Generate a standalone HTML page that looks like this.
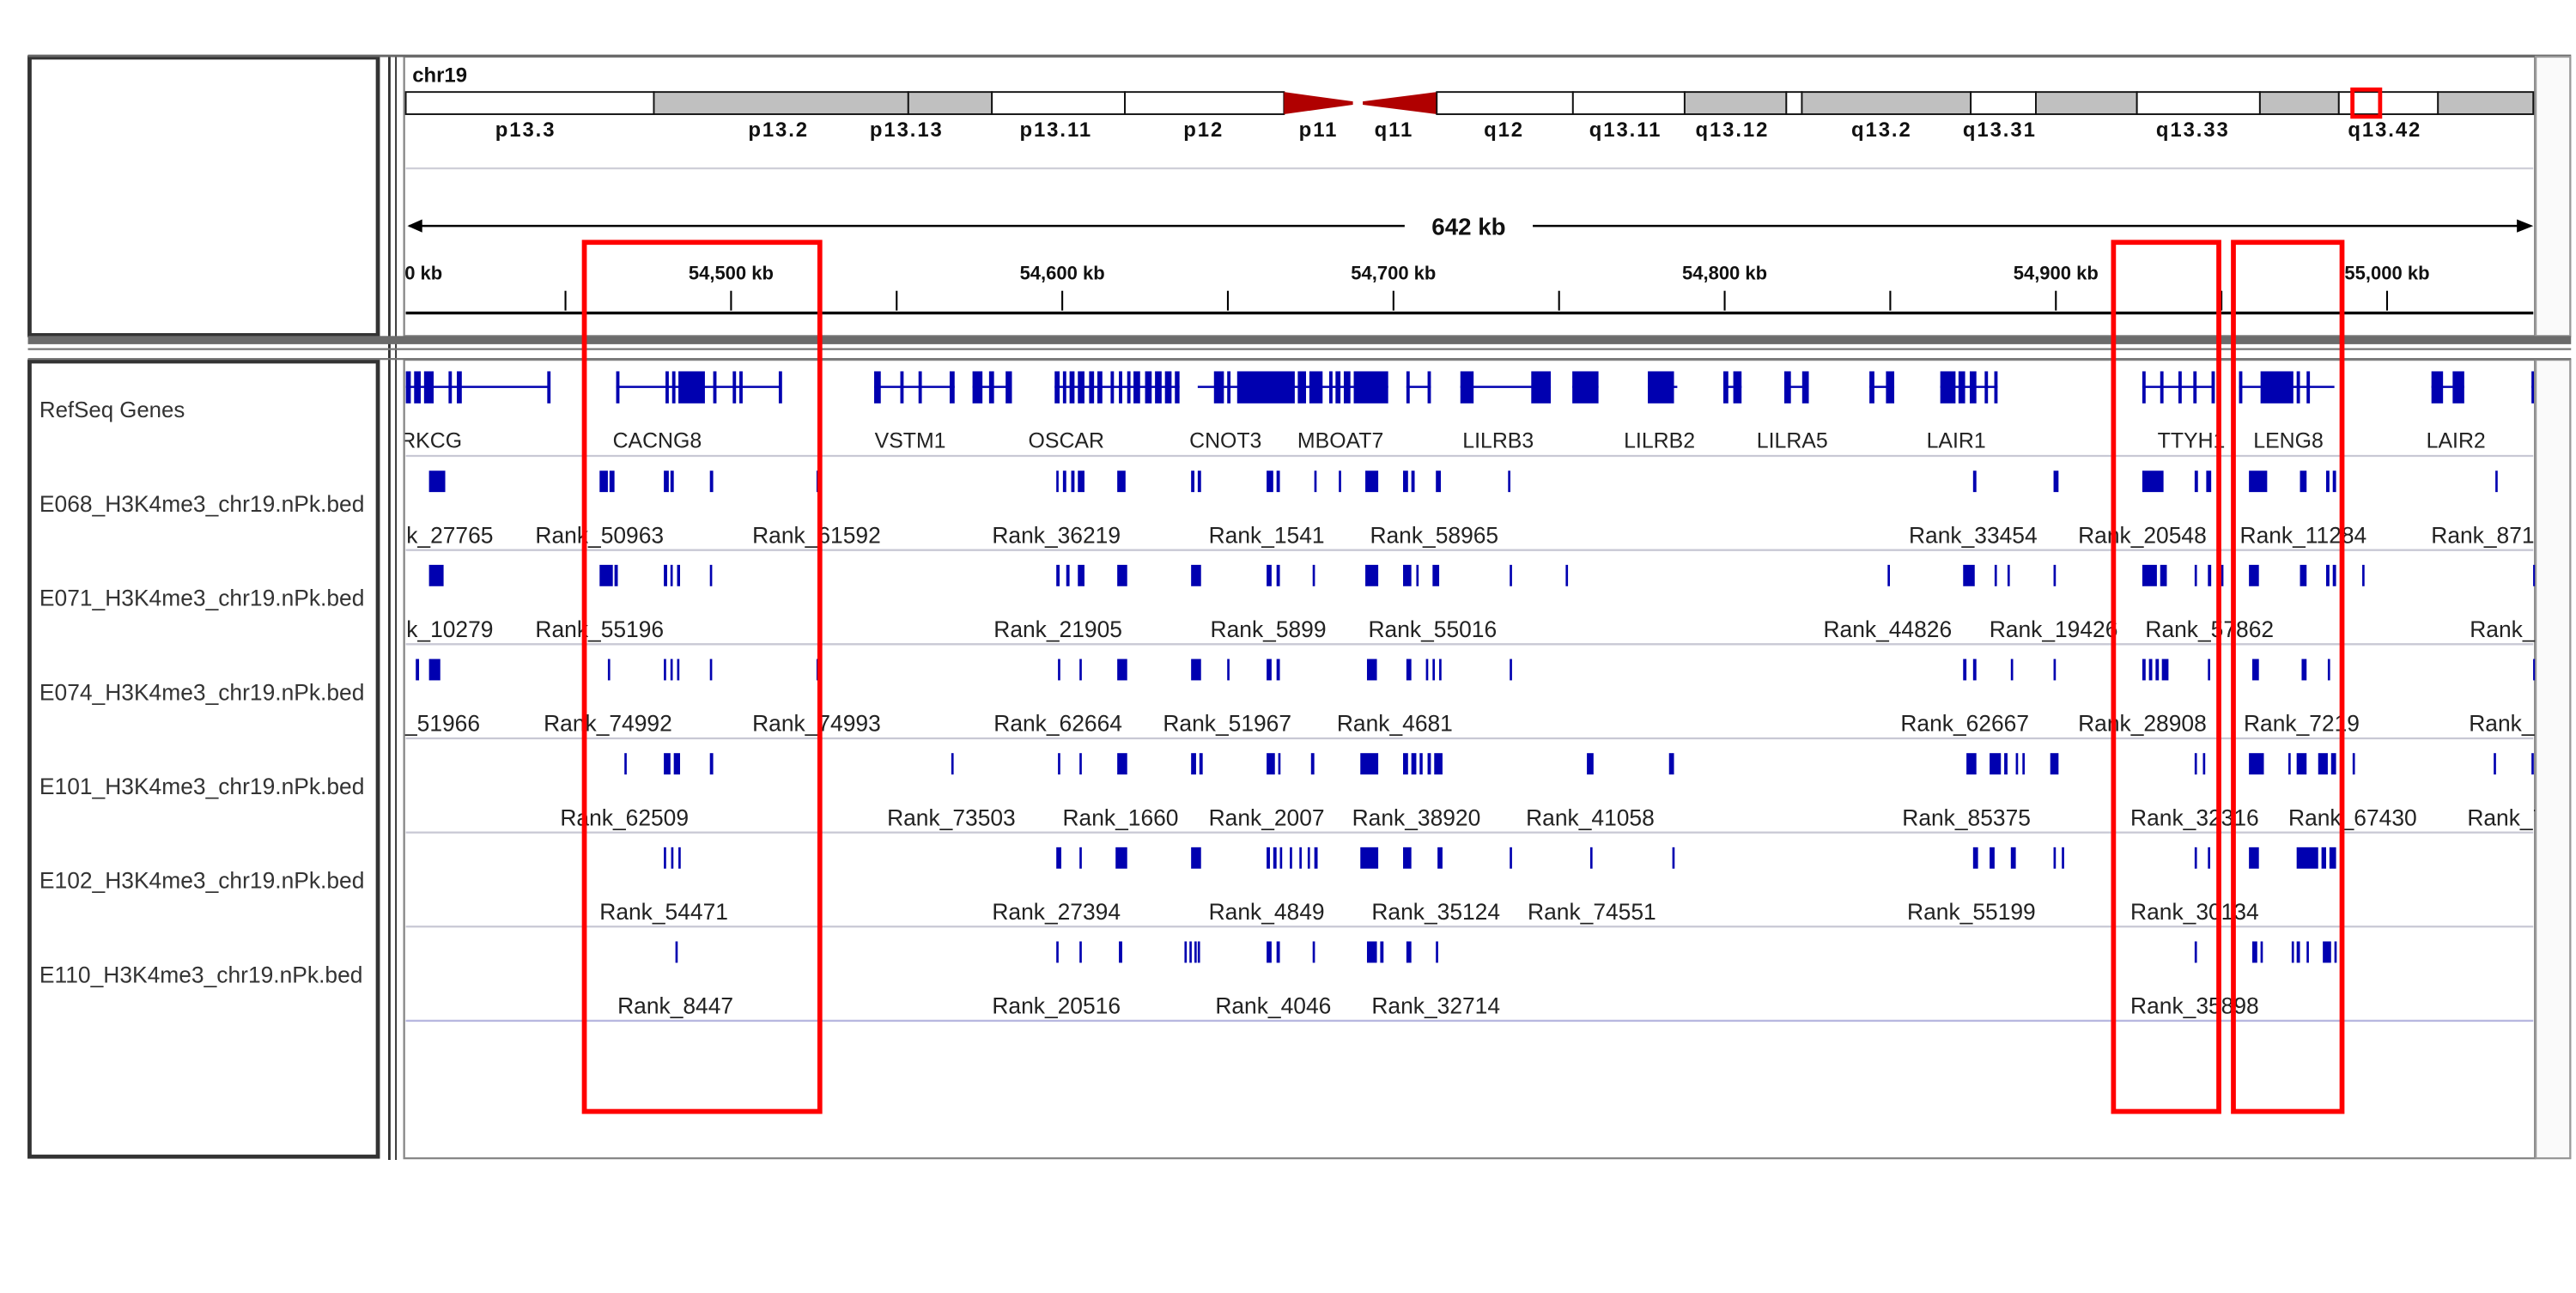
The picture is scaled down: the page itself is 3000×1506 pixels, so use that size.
<!DOCTYPE html>
<html><head><meta charset="utf-8"><style>
html,body{margin:0;padding:0;background:#fff;}
svg{display:block;}
text{font-family:"Liberation Sans",sans-serif;}
</style></head><body>
<svg id="chart" width="3000" height="1506" viewBox="0 0 1568 787" preserveAspectRatio="none" xmlns="http://www.w3.org/2000/svg">
<defs><clipPath id="dataClip"><rect x="246.5" y="30" width="1296.5" height="680"/></clipPath></defs>
<rect x="0" y="0" width="1568" height="787" fill="#fff"/>
<rect x="18" y="35" width="212" height="169" fill="#fff" stroke="#333" stroke-width="2.5"/>
<rect x="18" y="220" width="212" height="484" fill="#fff" stroke="#333" stroke-width="2.5"/>
<line x1="237" y1="34" x2="237" y2="706" stroke="#333" stroke-width="1.5"/>
<line x1="241" y1="34" x2="241" y2="706" stroke="#333" stroke-width="1"/>
<rect x="246" y="34.5" width="1297" height="170" fill="#fff" stroke="#888" stroke-width="1.2"/>
<rect x="246" y="219" width="1297" height="486" fill="#fff" stroke="#888" stroke-width="1.2"/>
<line x1="17" y1="34" x2="1565" y2="34" stroke="#666" stroke-width="1.5"/>
<rect x="1543.5" y="34.5" width="21" height="170" fill="#fafafa" stroke="#999" stroke-width="1.2"/>
<rect x="1543.5" y="219" width="21" height="486" fill="#fafafa" stroke="#999" stroke-width="1.2"/>
<rect x="17" y="204.5" width="1548" height="5" fill="#6b6b6b"/>
<line x1="17" y1="212.5" x2="1565" y2="212.5" stroke="#777" stroke-width="1.2"/>
<line x1="17" y1="218.5" x2="1565" y2="218.5" stroke="#777" stroke-width="1.2"/>
<text x="251" y="50" font-size="12.5" font-weight="bold" fill="#111">chr19</text>
<g id="ideo"></g>
<line x1="247" y1="102.5" x2="1542" y2="102.5" stroke="#cfcfd8" stroke-width="1.2"/>
<g id="ruler" clip-path="url(#dataClip)"></g>
<g id="tracks" clip-path="url(#dataClip)"></g>
<g id="names"></g>
<g id="boxes"></g>
</svg>
<script>
// ---------- data ----------
const rulerTicksKb = [54400,54450,54500,54550,54600,54650,54700,54750,54800,54850,54900,54950,55000];
const rulerLabelsKb = [54400,54500,54600,54700,54800,54900,55000];
const rulerLabels = ["54,400 kb","54,500 kb","54,600 kb","54,700 kb","54,800 kb","54,900 kb","55,000 kb"];
const spanLabel = "642 kb";

const bandNames = ["p13.3","p13.2","p13.13","p13.11","p12","p11","q11","q12","q13.11","q13.12","","q13.2","q13.31","","q13.33","","q13.42",""];
const bandStarts = [0,0.1166,0.2362,0.2755,0.3380,0.4128,0.4475,0.4846,0.5486,0.6011,0.6489,0.6562,0.7356,0.7662,0.8137,0.8715,0.9086,0.9552];
const bandEnds =   [0.1166,0.2362,0.2755,0.3380,0.4128,0.4475,0.4846,0.5486,0.6011,0.6489,0.6562,0.7356,0.7662,0.8137,0.8715,0.9086,0.9552,1];
const bandStains = ["w","g","g","w","w","cen","cen","w","w","g","w","g","w","g","w","g","w","g"];
const bandLabelPos = [0.0563,0.1752,0.2354,0.3056,0.3750,0.4290,0.4645,0.5162,0.5733,0.6235,null,0.6937,0.7492,null,0.8400,null,0.9302,null];
const viewBoxFrac = [0.9150,0.9280];

const geneSpans = [[54401.8,54445.0],[54465.3,54514.9],[54543.2,54567.5],[54572.9,54584.8],[54597.7,54635.4],[54640.9,54698.4],[54703.9,54711.3],[54720.2,54747.5],[54754.0,54761.9],[54776.8,54785.7],[54799.6,54805.1],[54818.0,54825.4],[54843.7,54851.2],[54865.1,54882.4],[54926.1,54947.9],[54955.3,54984.1],[55013.4,55023.3],[55043.6,55044.1]];
const geneExons = [[54401.8,54403.3],[54404.3,54406.3],[54407.3,54410.2],[54414.7,54415.7],[54417.2,54418.7],[54444.5,54445.5],
[54465.3,54466.3],[54480.2,54481.2],[54482.2,54483.2],[54484.1,54492.1],[54494.6,54495.6],[54500.5,54501.5],[54502.5,54503.5],[54514.4,54515.4],
[54543.2,54545.2],[54551.1,54552.1],[54556.6,54557.6],[54566.0,54567.5],[54572.9,54575.9],[54577.9,54579.4],[54582.9,54584.8],
[54597.7,54599.2],[54600.2,54601.2],[54602.2,54603.7],[54604.7,54606.7],[54608.1,54609.6],[54610.6,54612.1],[54614.6,54615.6],[54617.1,54618.1],[54619.6,54620.6],[54621.5,54623.5],[54625.0,54627.0],[54628.0,54630.0],[54631.0,54633.0],[54634.0,54635.4],
[54645.8,54648.8],[54649.8,54650.8],[54652.8,54670.2],[54671.1,54673.6],[54674.6,54678.6],[54680.6,54681.6],[54682.5,54684.0],[54685.0,54687.0],[54688.0,54698.4],
[54703.9,54704.9],[54710.3,54711.3],[54720.2,54724.2],[54741.6,54747.5],[54754.0,54761.9],[54776.8,54784.7],[54799.6,54801.1],[54802.6,54805.1],[54818.0,54820.0],[54823.4,54825.4],[54843.7,54845.2],[54848.7,54851.2],
[54865.1,54869.7],[54870.6,54872.6],[54874.0,54876.0],[54878.5,54879.5],[54881.4,54882.4],
[54926.1,54927.1],[54931.5,54932.5],[54937.0,54938.0],[54941.5,54942.5],[54947.0,54948.0],
[54955.3,54956.3],[54961.8,54971.7],[54972.7,54973.7],[54975.7,54976.7],[55013.4,55016.9],[55019.8,55023.3],[55043.6,55044.1]];
const geneNames = ["PRKCG","CACNG8","VSTM1","OSCAR","CNOT3","MBOAT7","LILRB3","LILRB2","LILRA5","LAIR1","TTYH1","LENG8","LAIR2"];
const geneLabelKb = [54407.3,54477.7,54554.1,54601.2,54649.3,54684.0,54731.6,54780.3,54820.4,54869.9,54940.9,54970.2,55020.8];

const trackNames = ["E068_H3K4me3_chr19.nPk.bed","E071_H3K4me3_chr19.nPk.bed","E074_H3K4me3_chr19.nPk.bed","E101_H3K4me3_chr19.nPk.bed","E102_H3K4me3_chr19.nPk.bed","E110_H3K4me3_chr19.nPk.bed"];
const peaksE068 = [[54408.8,54413.7],[54460.3,54462.8],[54463.3,54464.8],[54479.7,54481.2],[54481.7,54482.7],[54493.6,54494.6],[54525.8,54526.8],[54598.2,54598.7],[54600.2,54601.2],[54602.7,54603.7],[54604.7,54606.7],[54616.6,54619.1],[54638.9,54639.9],[54640.9,54641.9],[54661.7,54663.7],[54664.7,54665.7],[54676.1,54676.6],[54683.5,54684.0],[54691.5,54695.4],[54702.9,54704.4],[54705.4,54706.4],[54712.8,54714.3],[54734.6,54735.1],[54875.0,54876.0],[54899.3,54900.8],[54926.1,54932.5],[54941.9,54942.9],[54945.4,54946.9],[54958.3,54963.8],[54973.7,54975.7],[54981.6,54982.6],[54983.6,54984.6],[55032.7,55033.2]];
const peaksE071 = [[54408.8,54413.2],[54460.3,54464.3],[54464.8,54465.8],[54479.7,54480.7],[54481.7,54482.2],[54483.7,54484.6],[54493.6,54494.1],[54598.2,54599.2],[54601.2,54602.2],[54604.7,54606.7],[54616.6,54619.6],[54638.9,54641.9],[54661.7,54663.2],[54664.7,54665.7],[54675.6,54676.1],[54691.5,54695.4],[54702.9,54705.4],[54706.9,54707.4],[54711.8,54713.8],[54735.1,54735.6],[54752.0,54752.5],[54849.2,54849.7],[54872.0,54875.5],[54881.5,54882.0],[54885.4,54885.9],[54899.3,54899.8],[54926.1,54930.5],[54931.5,54933.5],[54941.9,54942.4],[54945.9,54946.9],[54949.9,54950.4],[54958.3,54961.3],[54973.7,54975.7],[54981.6,54982.6],[54983.6,54984.6],[54992.5,54993.0],[55044.1,55044.6]];
const peaksE074 = [[54404.8,54405.8],[54408.8,54412.2],[54462.8,54463.3],[54479.7,54480.2],[54481.7,54482.2],[54483.7,54484.2],[54493.6,54494.1],[54525.8,54526.8],[54598.7,54599.2],[54605.2,54605.7],[54616.6,54619.6],[54638.9,54641.9],[54649.8,54650.3],[54661.7,54663.2],[54664.7,54665.7],[54692.0,54695.0],[54703.9,54705.4],[54709.8,54710.3],[54711.8,54712.3],[54713.8,54714.3],[54735.1,54735.6],[54872.0,54873.0],[54875.0,54876.0],[54886.4,54886.9],[54899.3,54899.8],[54926.1,54927.1],[54928.1,54929.1],[54930.1,54931.1],[54932.0,54934.0],[54945.9,54946.4],[54959.3,54961.3],[54974.2,54975.7],[54982.1,54982.6],[55044.1,55044.6]];
const peaksE101 = [[54467.8,54468.3],[54479.7,54481.7],[54482.7,54484.6],[54493.6,54494.6],[54566.5,54567.0],[54598.7,54599.2],[54605.2,54605.7],[54616.6,54619.6],[54638.9,54640.4],[54641.4,54642.4],[54661.7,54664.2],[54665.2,54665.7],[54675.1,54676.1],[54690.0,54695.4],[54702.9,54704.4],[54705.4,54706.9],[54707.9,54708.8],[54710.3,54711.3],[54712.3,54714.8],[54758.4,54760.4],[54783.2,54784.7],[54873.0,54876.0],[54880.0,54883.4],[54884.4,54885.4],[54887.9,54888.4],[54889.9,54890.4],[54898.3,54900.8],[54941.9,54942.4],[54944.4,54944.9],[54958.3,54962.8],[54970.2,54970.7],[54972.7,54975.7],[54979.2,54982.1],[54983.1,54984.6],[54989.6,54990.1],[55032.2,55032.7],[55043.6,55044.1]];
const peaksE102 = [[54479.7,54480.2],[54481.9,54482.4],[54484.1,54484.6],[54598.2,54599.7],[54605.2,54605.7],[54616.1,54619.6],[54638.9,54641.9],[54661.7,54662.7],[54663.7,54664.7],[54665.7,54666.2],[54668.7,54669.2],[54671.6,54672.1],[54674.1,54674.6],[54676.1,54677.1],[54690.0,54695.4],[54702.9,54705.4],[54713.3,54714.8],[54735.1,54735.6],[54759.4,54759.9],[54784.2,54784.7],[54875.0,54876.5],[54880.0,54881.5],[54886.4,54887.9],[54899.3,54899.8],[54901.8,54902.3],[54941.9,54942.4],[54945.9,54946.4],[54958.3,54961.3],[54972.7,54979.2],[54980.2,54981.6],[54982.6,54984.6]];
const peaksE110 = [[54483.2,54483.7],[54598.2,54598.7],[54605.2,54605.7],[54617.1,54618.1],[54636.9,54637.4],[54638.4,54638.9],[54639.9,54640.4],[54640.9,54641.4],[54661.7,54663.2],[54664.7,54665.7],[54675.6,54676.1],[54692.0,54695.0],[54696.0,54697.0],[54703.9,54705.4],[54712.8,54713.3],[54941.9,54942.4],[54959.3,54960.8],[54961.8,54962.3],[54971.2,54971.7],[54972.7,54973.7],[54975.7,54976.2],[54980.6,54983.1],[54984.1,54984.6]];
const labelsE068 = ["Rank_27765","Rank_50963","Rank_61592","Rank_36219","Rank_1541","Rank_58965","Rank_33454","Rank_20548","Rank_11284","Rank_87101"];
const labelKbE068 = [54408.8,54460.3,54525.8,54598.2,54661.7,54712.3,54875.0,54926.1,54974.7,55032.7];
const labelsE071 = ["Rank_10279","Rank_55196","Rank_21905","Rank_5899","Rank_55016","Rank_44826","Rank_19426","Rank_57862","Rank_60112"];
const labelKbE071 = [54408.8,54460.3,54598.7,54662.2,54711.8,54849.2,54899.3,54946.4,55044.1];
const labelsE074 = ["Rank_51966","Rank_74992","Rank_74993","Rank_62664","Rank_51967","Rank_4681","Rank_62667","Rank_28908","Rank_7219","Rank_15302"];
const labelKbE074 = [54404.8,54462.8,54525.8,54598.7,54649.8,54700.4,54872.5,54926.1,54974.2,55044.1];
const labelsE101 = ["Rank_62509","Rank_73503","Rank_1660","Rank_2007","Rank_38920","Rank_41058","Rank_85375","Rank_32316","Rank_67430","Rank_70221"];
const labelKbE101 = [54467.8,54566.5,54617.6,54661.7,54706.9,54759.4,54873.0,54941.9,54989.6,55043.6];
const labelsE102 = ["Rank_54471","Rank_27394","Rank_4849","Rank_35124","Rank_74551","Rank_55199","Rank_30134"];
const labelKbE102 = [54479.7,54598.2,54661.7,54712.8,54759.9,54874.5,54941.9];
const labelsE110 = ["Rank_8447","Rank_20516","Rank_4046","Rank_32714","Rank_35898"];
const labelKbE110 = [54483.2,54598.2,54663.7,54712.8,54941.9];
const highlightStartKb = [54455.7,54917.4,54953.6];
const highlightEndKb = [54526.8,54949.2,54986.4];

// ---------- rendering ----------
const NS = "http://www.w3.org/2000/svg";
const X0 = 247, X1 = 1542;
function xs(kb){ return 445 + (kb - 54500) * (1453 - 445) / 500; }
function mk(tag, attrs, parent){
  const e = document.createElementNS(NS, tag);
  for (const k in attrs) e.setAttribute(k, attrs[k]);
  parent.appendChild(e);
  return e;
}
const ideo = document.getElementById('ideo');
const IY = 56, IH = 13.5, IW = X1 - X0;
for (let i = 0; i < bandStarts.length; i++) {
  const a = X0 + bandStarts[i]*IW, b = X0 + bandEnds[i]*IW;
  let el;
  if (bandStains[i] === 'cen') {
    const left = bandNames[i] === 'p11';
    const pts = left ? `${a},${IY} ${b-3},${IY+IH/2-1} ${b-3},${IY+IH/2+1} ${a},${IY+IH}` : `${a+3},${IY+IH/2-1} ${b},${IY} ${b},${IY+IH} ${a+3},${IY+IH/2+1}`;
    el = mk('polygon', {points: pts, fill:'#b00000'}, ideo);
  } else {
    el = mk('rect', {x:a, y:IY, width:b-a, height:IH, fill: bandStains[i]==='g' ? '#c0c0c0' : '#fff', stroke:'#111', 'stroke-width':1}, ideo);
  }
  
  
  if (bandLabelPos[i] !== null) {
    const t = mk('text', {x: X0 + bandLabelPos[i]*IW, y: 83, 'font-size':12.5, 'font-weight':'bold', 'text-anchor':'middle', 'letter-spacing':'1', fill:'#111'}, ideo);
    t.textContent = bandNames[i];
    
    
  }
}
const vb = mk('rect', {x: X0 + viewBoxFrac[0]*IW, y: 54.5, width:(viewBoxFrac[1]-viewBoxFrac[0])*IW, height:16.5, fill:'none', stroke:'#f00', 'stroke-width':2.5}, ideo);



const ruler = document.getElementById('ruler');
const sl1 = mk('line', {x1:X0+2, y1:137.5, x2:855, y2:137.5, stroke:'#000', 'stroke-width':1.3}, ruler);


const sl2 = mk('line', {x1:933, y1:137.5, x2:X1-2, y2:137.5, stroke:'#000', 'stroke-width':1.3}, ruler);


const ah1 = mk('polygon', {points:`${X0+1},137.5 ${X0+10},133.5 ${X0+10},141.5`, fill:'#000'}, ruler);


const ah2 = mk('polygon', {points:`${X1},137.5 ${X1-10},133.5 ${X1-10},141.5`, fill:'#000'}, ruler);


const st = mk('text', {x:894, y:143, 'font-size':14.5, 'font-weight':'bold', 'text-anchor':'middle', fill:'#111'}, ruler);
st.textContent = spanLabel;


rulerTicksKb.forEach(kb => {
  const x = xs(kb);
  const l = mk('line', {x1:x, y1:177, x2:x, y2:189, stroke:'#000', 'stroke-width':1.1}, ruler);
  
  
});
rulerLabelsKb.forEach((kb, i) => {
  const t = mk('text', {x:xs(kb), y:170, 'font-size':11.5, 'font-weight':'bold', 'text-anchor':'middle', fill:'#111'}, ruler);
  t.textContent = rulerLabels[i];
  
  
});
const bl = mk('line', {x1:X0, y1:190.5, x2:X1, y2:190.5, stroke:'#000', 'stroke-width':1.8}, ruler);



const tracks = document.getElementById('tracks');
const geneG = mk('g', {}, tracks);


geneSpans.forEach(s => {
  const l = mk('line', {x1:xs(s[0]), y1:235.5, x2:xs(s[1]), y2:235.5, stroke:'#0000b0', 'stroke-width':1.3}, geneG);
  
  
});
geneExons.forEach(s => {
  const x = xs(s[0]);
  const r = mk('rect', {x:x, y:226, width:Math.max(1.5, xs(s[1])-x), height:19.5, fill:'#0000b0'}, geneG);
  
  
});
geneNames.forEach((n, i) => {
  const t = mk('text', {x:xs(geneLabelKb[i]), y:272.5, 'font-size':13, 'text-anchor':'middle', fill:'#222'}, geneG);
  t.textContent = n;
  
  
});
const sep0 = mk('line', {x1:X0, y1:277.5, x2:X1, y2:277.5, stroke:'#c8c8d4', 'stroke-width':1.2}, tracks);



const peakSets = [peaksE068, peaksE071, peaksE074, peaksE101, peaksE102, peaksE110];
const labelSets = [labelsE068, labelsE071, labelsE074, labelsE101, labelsE102, labelsE110];
const labelKbSets = [labelKbE068, labelKbE071, labelKbE074, labelKbE101, labelKbE102, labelKbE110];
peakSets.forEach((peaks, ti) => {
  const top = 277.5 + ti * 57.3;
  const g = mk('g', {}, tracks);
  
  
  peaks.forEach(p => {
    const x = xs(p[0]);
    const r = mk('rect', {x:x, y:top+9, width:Math.max(1.4, xs(p[1])-x), height:13, fill:'#0000b0'}, g);
    
    
  });
  labelSets[ti].forEach((lab, li) => {
    const t = mk('text', {x:xs(labelKbSets[ti][li]), y:top+53, 'font-size':13.8, 'text-anchor':'middle', fill:'#222'}, g);
    t.textContent = lab;
    
    
  });
  const s = mk('line', {x1:X0, y1:top+57.3, x2:X1, y2:top+57.3, stroke: ti===5 ? '#b8b8e0' : '#c8c8d4', 'stroke-width':1.2}, tracks);
  
  
});

const names = document.getElementById('names');
const rn = mk('text', {x:24, y:254, 'font-size':13.5, fill:'#333'}, names);
rn.textContent = 'RefSeq Genes';


trackNames.forEach((n, i) => {
  const t = mk('text', {x:24, y:311.5 + i*57.3, 'font-size':13.8, fill:'#333'}, names);
  t.textContent = n;
  
  
});

const boxes = document.getElementById('boxes');
highlightStartKb.forEach((s, i) => {
  const a = xs(s), b = xs(highlightEndKb[i]);
  const r = mk('rect', {x:a, y:147.5, width:b-a, height:529, fill:'none', stroke:'#ff0000', 'stroke-width':3}, boxes);
  
  
});
</script>
</body></html>
